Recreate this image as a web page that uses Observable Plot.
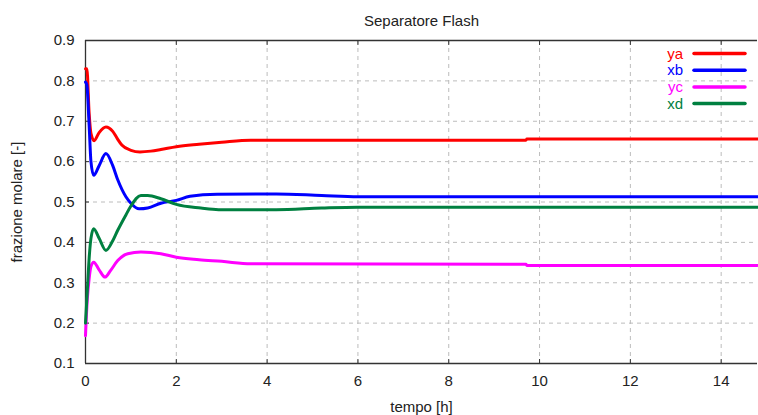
<!DOCTYPE html>
<html>
<head>
<meta charset="utf-8">
<script src="https://cdn.jsdelivr.net/npm/d3@7"></script>
<script src="https://cdn.jsdelivr.net/npm/@observablehq/plot@0.6"></script>
<style>
  html, body { margin: 0; padding: 0; background: #fff; }
</style>
</head>
<body>
<div id="chart"></div>
<script>
const title = "Separatore Flash";
const xLabel = "tempo [h]";
const yLabel = "frazione molare [-]";
const xTicks = [0, 2, 4, 6, 8, 10, 12, 14];
const yTicks = [0.1, 0.2, 0.3, 0.4, 0.5, 0.6, 0.7, 0.8, 0.9];
const seriesNames = ["ya", "xb", "yc", "xd"];
const seriesColors = ["#ff0000", "#0000ff", "#ff00ff", "#008040"];

const t_ya = [0, 0.03, 0.08, 0.12, 0.19, 0.3, 0.45, 0.6, 0.7, 0.8, 1.0, 1.2, 1.44, 1.66, 2.0, 2.5, 3.0, 3.64, 9.7, 9.72, 14.8];
const ya   = [0.83, 0.83, 0.72, 0.67, 0.652, 0.672, 0.686, 0.675, 0.657, 0.641, 0.628, 0.624, 0.626, 0.630, 0.637, 0.643, 0.648, 0.653, 0.653, 0.656, 0.656];

const t_xb = [0, 0.03, 0.08, 0.12, 0.18, 0.3, 0.45, 0.6, 0.71, 0.89, 1.0, 1.18, 1.37, 1.66, 2.0, 2.3, 2.9, 4.2, 5.2, 6.0, 14.8];
const xb   = [0.797, 0.79, 0.69, 0.6, 0.566, 0.59, 0.62, 0.59, 0.555, 0.513, 0.497, 0.483, 0.485, 0.497, 0.504, 0.514, 0.519, 0.52, 0.516, 0.513, 0.513];

const t_yc = [0, 0.04, 0.08, 0.12, 0.18, 0.3, 0.43, 0.55, 0.71, 0.93, 1.22, 1.66, 2.0, 2.5, 3.0, 3.64, 9.7, 9.72, 14.8];
const yc   = [0.169, 0.26, 0.31, 0.34, 0.351, 0.332, 0.314, 0.33, 0.355, 0.372, 0.376, 0.372, 0.363, 0.357, 0.353, 0.347, 0.346, 0.343, 0.343];

const t_xd = [0, 0.04, 0.08, 0.12, 0.18, 0.3, 0.45, 0.6, 0.71, 0.89, 1.0, 1.22, 1.37, 1.66, 2.0, 2.54, 2.93, 4.2, 5.2, 6.0, 14.8];
const xd   = [0.2, 0.28, 0.36, 0.41, 0.434, 0.41, 0.38, 0.404, 0.43, 0.468, 0.49, 0.516, 0.516, 0.508, 0.494, 0.485, 0.481, 0.481, 0.485, 0.487, 0.487];

const seriesT = [t_ya, t_xb, t_yc, t_xd];
const seriesV = [ya, xb, yc, xd];

const data = seriesNames.flatMap((name, i) =>
  seriesT[i].map((t, j) => ({ series: name, t, v: seriesV[i][j] }))
);

const font = '"Liberation Sans Narrow", "Liberation Sans", Arial, sans-serif';

function legend(index, scales, values, dimensions) {
  const { width, marginRight, marginTop } = dimensions;
  const g = d3.create("svg:g");
  const x2 = width - marginRight - 12;
  const x1 = x2 - 51;
  seriesNames.forEach((name, i) => {
    const y = marginTop + 13.5 + i * 16.7;
    g.append("line")
      .attr("x1", x1).attr("x2", x2).attr("y1", y).attr("y2", y)
      .attr("stroke", seriesColors[i]).attr("stroke-width", 3.5)
      .attr("stroke-linecap", "round");
    g.append("text")
      .attr("x", x1 - 11).attr("y", y).attr("dy", "0.35em")
      .attr("text-anchor", "end")
      .attr("fill", seriesColors[i])
      .attr("font-size", 15)
      .text(name);
  });
  return g.node();
}

const chart = Plot.plot({
  width: 758,
  height: 415,
  marginLeft: 85,
  marginRight: 1,
  marginTop: 40,
  marginBottom: 52,
  style: { fontFamily: font, fontSize: "14px", background: "#fff", color: "#222" },
  x: { domain: [0, 14.8] },
  y: { domain: [0.1, 0.9] },
  color: { domain: seriesNames, range: seriesColors },
  marks: [
    Plot.gridX(xTicks.filter(d => d > 0), { stroke: "#bcbcbc", strokeOpacity: 1, strokeDasharray: "4,4" }),
    Plot.gridY(yTicks.filter(d => d > 0.1 && d < 0.9), { stroke: "#bcbcbc", strokeOpacity: 1, strokeDasharray: "4,4" }),
    Plot.axisX(xTicks, { anchor: "bottom", tickSize: 0, tickPadding: 12, tickFormat: d3.format("d"), label: xLabel, labelAnchor: "center", labelOffset: 48, labelArrow: "none", fontSize: 15 }),
    Plot.axisX(xTicks, { anchor: "bottom", tickSize: -4, text: null, label: null, stroke: "#333" }),
    Plot.axisX(xTicks, { anchor: "top", tickSize: -4, text: null, label: null, stroke: "#333" }),
    Plot.axisY(yTicks, { anchor: "left", tickSize: 0, tickPadding: 11, tickFormat: d3.format(".1f"), label: yLabel, labelAnchor: "center", labelOffset: 74, labelArrow: "none", fontSize: 15 }),
    Plot.axisY(yTicks, { anchor: "left", tickSize: -4, text: null, label: null, stroke: "#333" }),
    Plot.ruleX([0], { stroke: "#333", strokeWidth: 1.3 }),
    Plot.ruleY([0.1, 0.9], { stroke: "#333", strokeWidth: 1.3 }),
    Plot.line(data, { x: "t", y: "v", z: "series", stroke: "series", strokeWidth: 3, curve: "monotone-x", strokeLinejoin: "round" }),
    Plot.text([title], { frameAnchor: "top", dy: -25, fontSize: 15, fill: "#222" }),
    legend
  ]
});

document.getElementById("chart").appendChild(chart);
</script>
</body>
</html>
